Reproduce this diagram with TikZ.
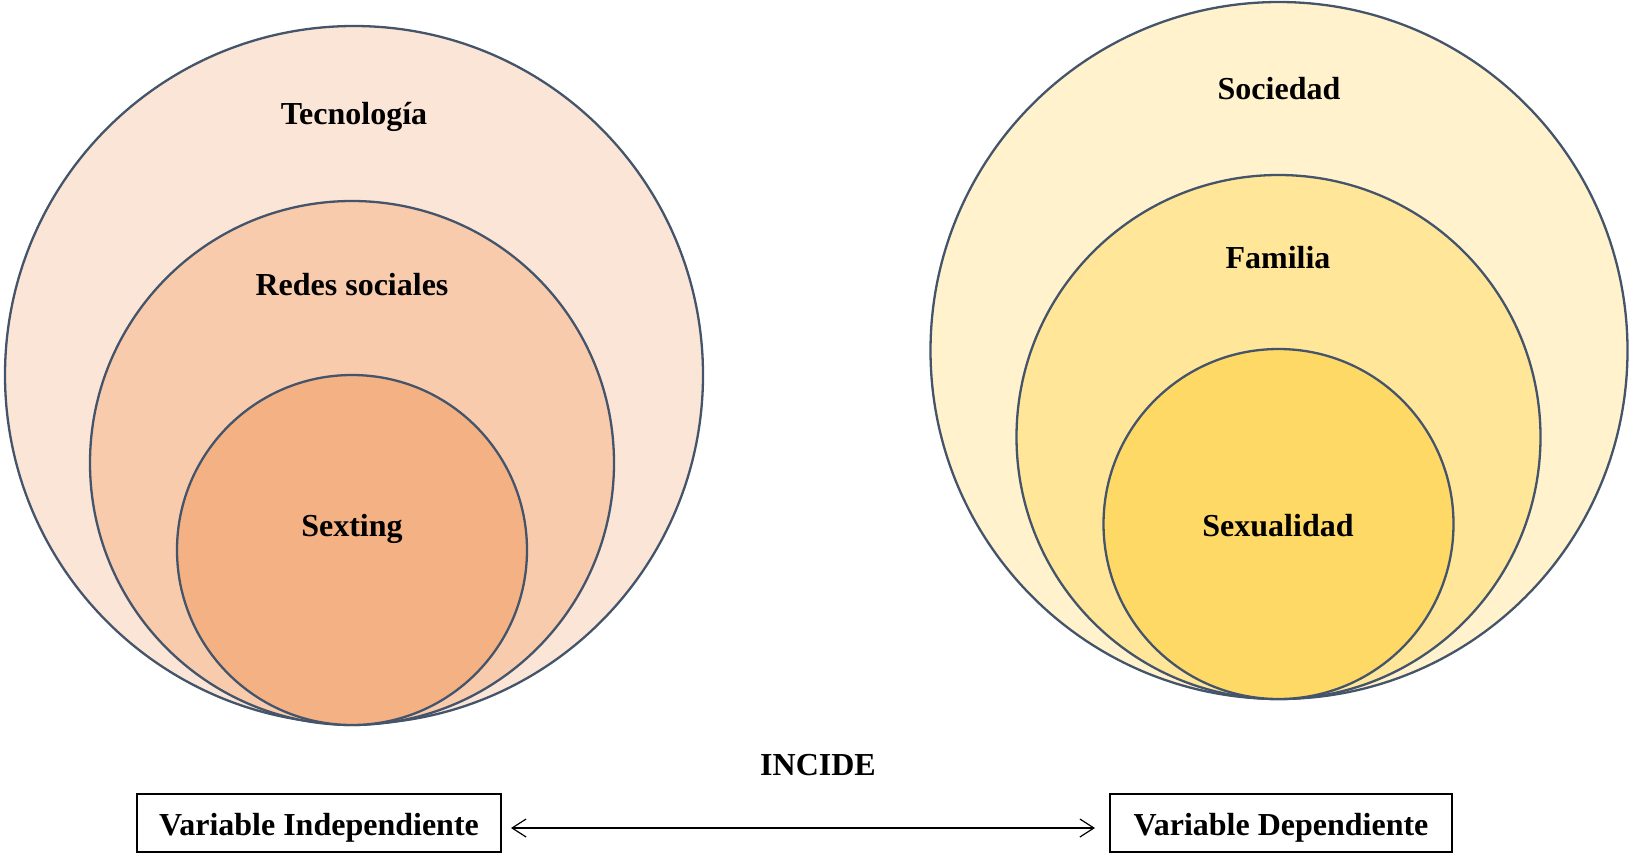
\documentclass[tikz,border=0pt]{standalone}
\usepackage{fontspec}
\setmainfont{Liberation Serif}
\usetikzlibrary{arrows.meta}
\definecolor{edge}{HTML}{44546A}
\definecolor{lA}{HTML}{FBE5D6}
\definecolor{lB}{HTML}{F8CBAD}
\definecolor{lC}{HTML}{F4B183}
\definecolor{rA}{HTML}{FFF2CC}
\definecolor{rB}{HTML}{FFE699}
\definecolor{rC}{HTML}{FFD966}
\tikzset{
  ring/.style={draw=edge, line width=2.3pt},
  lbl/.style={font=\fontsize{32}{38}\selectfont\bfseries, anchor=base, inner sep=0pt},
  varbox/.style={draw=black, line width=2.3pt, font=\fontsize{32}{38}\selectfont\bfseries, minimum height=58pt, inner sep=0pt, text height=30pt, text depth=6pt},
  link/.style={line width=1.2pt, {Straight Barb[length=14pt,width=18pt,line width=1.2pt]}-{Straight Barb[length=14pt,width=18pt,line width=1.2pt]}}
}
\begin{document}
\begin{tikzpicture}[x=1pt,y=-1pt]
\useasboundingbox (0,0) rectangle (1629,854);
% left circles
\filldraw[ring, fill=lA] (354,375) circle (349);
\filldraw[ring, fill=lB] (352,463) circle (262);
\filldraw[ring, fill=lC] (352,550) circle (175);
% right circles
\filldraw[ring, fill=rA] (1279,350.5) circle (348.5);
\filldraw[ring, fill=rB] (1278.5,437) circle (262);
\filldraw[ring, fill=rC] (1278.5,524) circle (175);
% labels
\node[lbl] (tec) at (354,124) {Tecnología};
\node[lbl] (red) at (352,295) {Redes sociales};
\node[lbl] (sex) at (352,536) {Sexting};
\node[lbl] (soc) at (1279,99) {Sociedad};
\node[lbl] (fam) at (1278,268) {Familia};
\node[lbl] (sxl) at (1278,536) {Sexualidad};
\node[lbl] (inc) at (818,775) {INCIDE};
% boxes
\node[varbox, minimum width=364pt] (vi) at (319,823) {Variable Independiente};
\node[varbox, minimum width=342pt] (vd) at (1281,823) {Variable Dependiente};
\coordinate (a1) at (511,828);
\coordinate (a2) at (1095,828);
\draw[link] (a1) -- (a2);
\end{tikzpicture}
\end{document}
